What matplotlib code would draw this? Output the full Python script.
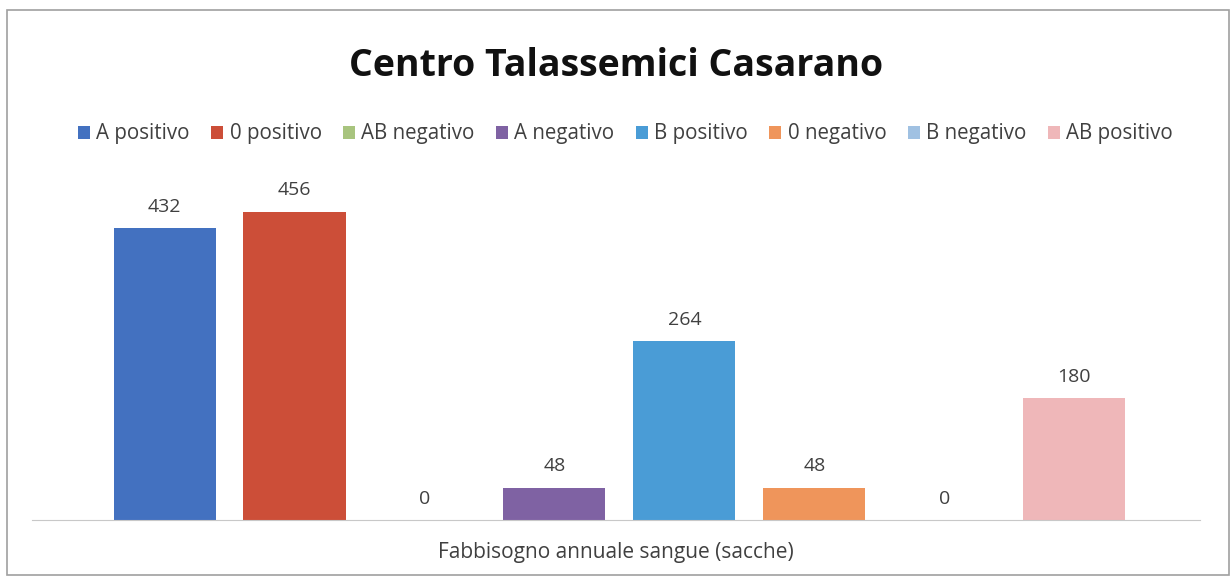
import matplotlib.pyplot as plt
from matplotlib.patches import Rectangle

groups = ["A positivo", "0 positivo", "AB negativo", "A negativo",
          "B positivo", "0 negativo", "B negativo", "AB positivo"]
values = [432, 456, 0, 48, 264, 48, 0, 180]
colors = ["#4371c0", "#cc4e38", "#a8c47e", "#7f62a3",
          "#4a9cd6", "#ef955b", "#a0c1e2", "#efb7b9"]
category = "Fabbisogno annuale sangue (sacche)"
title = "Centro Talassemici Casarano"

plt.rcParams['font.family'] = ['Open Sans', 'DejaVu Sans']

fig = plt.figure(figsize=(12.31, 5.77), dpi=100)
ax = fig.add_axes([0.026, 0.0988, 0.949, 0.586])

xs = list(range(len(values)))
for x, v, c, g in zip(xs, values, colors, groups):
    ax.bar(x, v, width=0.785, color=c, label=g)
    ax.text(x, v + 18, str(v), ha="center", va="bottom", fontsize=14, color="#404040")

ax.set_xlim(-1.02, 7.97)
ax.set_ylim(0, 500)
ax.set_yticks([])
ax.set_xticks([])
for s in ["top", "left", "right"]:
    ax.spines[s].set_visible(False)
ax.spines["bottom"].set_color("#c8c8c8")

fig.text(0.5005, 0.886, title, ha="center", va="center", fontsize=27, fontweight="bold", color="#111111")
fig.text(0.5005, 0.042, category, ha="center", va="center", fontsize=15, color="#404040")

fig.legend(loc="center", bbox_to_anchor=(0.508, 0.768), ncol=8, frameon=False,
           fontsize=14.8, handlelength=0.6, handleheight=0.6, handletextpad=0.3,
           columnspacing=1.03, labelcolor="#404040")

fig.patches.append(Rectangle((0.006, 0.004), 0.992, 0.978, transform=fig.transFigure,
                             fill=False, edgecolor="#a0a0a0", linewidth=1.2))

fig.savefig("out.png", dpi=100)
